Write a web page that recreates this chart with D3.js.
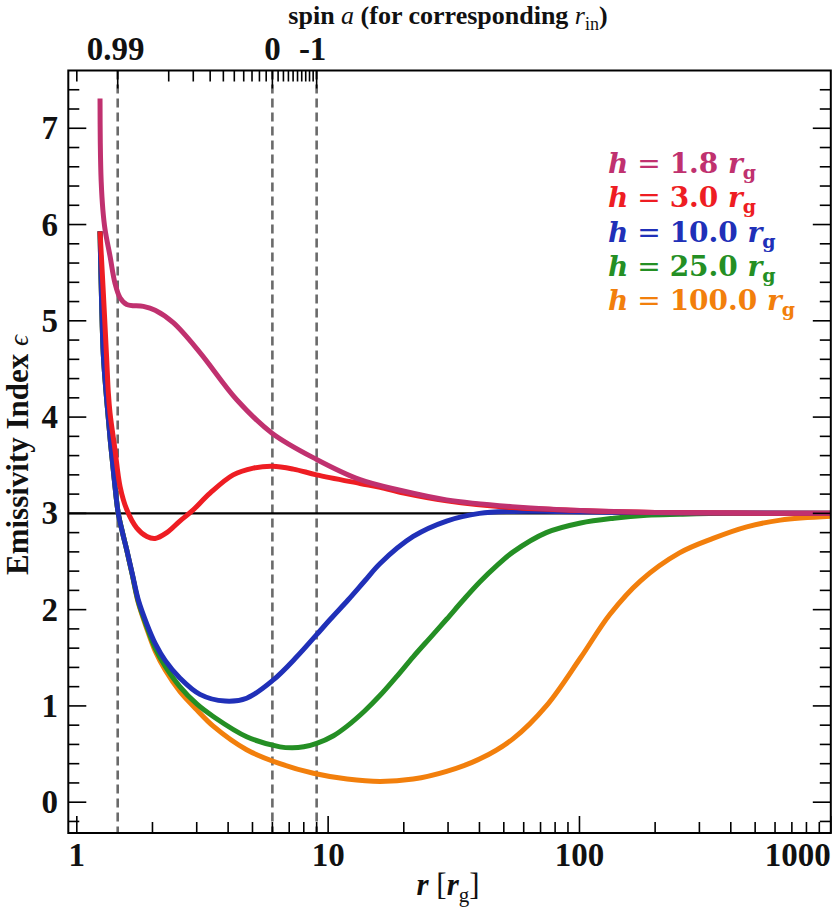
<!DOCTYPE html>
<html lang="en">
<head>
<meta charset="utf-8" />
<title>Emissivity index</title>
<script src="https://cdn.jsdelivr.net/npm/d3@7"></script>
<style>
  body { margin: 0; background: #fff; }
  text { font-family: "Liberation Serif", serif; font-weight: bold; fill: #111; }
</style>
</head>
<body>
<div id="chart"></div>
<script>
// curves: [r, emissivity index]
var h18 = [[1.237,7.31],[1.24,6.85],[1.25,6.45],[1.27,6.15],[1.295,5.95],[1.356,5.67],[1.419,5.39],[1.486,5.24],
  [1.58,5.17],[1.84,5.15],[2.05,5.11],[2.42,4.98],[3.09,4.67],[4.33,4.18],[6.0,3.83],[9.0,3.56],
  [13.4,3.35],[19.3,3.24],[29.6,3.14],[54,3.07],[101,3.03],[200,3.01],[1000,3.0]];
var h30 = [[1.237,5.93],[1.275,5.29],[1.315,4.6],[1.335,4.25],[1.356,4.04],[1.419,3.66],[1.486,3.28],
  [1.58,3.04],[1.73,2.85],[1.90,2.76],[2.05,2.74],[2.28,2.80],[2.57,2.92],[2.86,3.02],[3.39,3.21],
  [4.19,3.40],[5.04,3.47],[6.0,3.49],[7.27,3.46],[9.0,3.40],[13.4,3.31],[16.1,3.27],[20,3.21],
  [29.6,3.13],[54,3.06],[100,3.03],[200,3.01],[1000,3.0]];
var h100 = [[1.237,5.93],[1.255,5.2],[1.275,4.65],[1.315,4.18],[1.36,3.75],[1.41,3.35],[1.462,3.0],
  [1.52,2.8],[1.58,2.62],[1.66,2.38],[1.757,2.10],[1.9,1.85],[2.05,1.65],[2.25,1.47],[2.57,1.29],
  [3.09,1.12],[3.89,1.05],[4.74,1.08],[6.05,1.27],[7.5,1.51],[9,1.74],[10.2,1.9],[12,2.1],[14,2.3],
  [16.1,2.48],[21.8,2.76],[29.6,2.92],[40,3.0],[54,3.02],[80,3.02],[150,3.01],[1000,3.0]];
var h250 = [[1.237,5.93],[1.255,5.2],[1.275,4.65],[1.315,4.18],[1.36,3.75],[1.41,3.35],[1.462,3.0],
  [1.52,2.8],[1.58,2.62],[1.66,2.37],[1.757,2.08],[1.9,1.82],[2.05,1.60],[2.25,1.41],[2.57,1.20],
  [3.0,1.02],[3.49,0.89],[4.74,0.68],[6.43,0.575],[7.2,0.565],[8,0.575],[9,0.61],[10.5,0.69],[11.9,0.79],
  [14,0.95],[16.1,1.11],[18.8,1.31],[21.8,1.51],[25.5,1.71],[29.6,1.90],[34.5,2.1],[40.2,2.29],
  [47,2.46],[54.5,2.60],[73.8,2.80],[101,2.90],[137,2.95],[185,2.98],[250,2.99],[400,3.0],[1000,3.0]];
var h1000 = [[1.237,5.93],[1.255,5.2],[1.275,4.65],[1.315,4.18],[1.36,3.75],[1.41,3.35],[1.462,3.0],
  [1.52,2.8],[1.58,2.62],[1.66,2.37],[1.757,2.07],[1.9,1.80],[2.05,1.57],[2.25,1.37],[2.57,1.15],
  [3.0,0.96],[3.49,0.79],[4.74,0.545],[6.43,0.40],[8.74,0.30],[11.9,0.24],[16.1,0.215],[21.8,0.24],
  [29.6,0.32],[40.2,0.45],[54.5,0.66],[73.8,1.0],[101,1.5],[132,1.95],[175,2.3],[250,2.59],
  [340,2.74],[463,2.86],[630,2.93],[1000,2.97]];

var heights = ["1.8", "3.0", "10.0", "25.0", "100.0"];
var spinTicks = [1, 0.99, 0.9, 0.8, 0.7, 0.6, 0.5, 0.4, 0.3, 0.2, 0.1, 0,
  -0.1, -0.2, -0.3, -0.4, -0.5, -0.6, -0.7, -0.8, -0.9, -1];
var spinLabels = [0.99, 0, -1];
var rTicks = [1, 10, 100, 1000];
var epsTicks = [0, 1, 2, 3, 4, 5, 6, 7];

var colors = ["#c0316f", "#ee1d23", "#2030b8", "#248f24", "#f27f0c"];
var series = [h18, h30, h100, h250, h1000];

var W = 832, H = 910;
var pl = 68.3, pr = 830.8, pt = 70.5, pb = 833;

var x = d3.scaleLog().domain([0.925, 1000]).range([pl, pr]);
var y = d3.scaleLinear().domain([-0.32, 7.6]).range([pb, pt]);

// ISCO radius for a given spin, used to place the top axis
function rIsco(a) {
  var z1 = 1 + Math.cbrt(1 - a * a) * (Math.cbrt(1 + a) + Math.cbrt(1 - a));
  var z2 = Math.sqrt(3 * a * a + z1 * z1);
  var s = a < 0 ? -1 : 1;
  return 3 + z2 - s * Math.sqrt((3 - z1) * (3 + z1 + 2 * z2));
}

var svg = d3.select("#chart").append("svg")
  .attr("width", W).attr("height", H);

// dashed verticals at the ISCO of the labelled spins
svg.selectAll("line.isco").data(spinLabels).enter().append("line")
  .attr("class", "isco")
  .attr("x1", function(d) { return x(rIsco(d)); })
  .attr("x2", function(d) { return x(rIsco(d)); })
  .attr("y1", pt).attr("y2", pb)
  .attr("stroke", "#6a6a6a").attr("stroke-width", 2.6)
  .attr("stroke-dasharray", "9,5");

// eps = 3 reference line
svg.append("line")
  .attr("x1", pl).attr("x2", pr)
  .attr("y1", y(3)).attr("y2", y(3))
  .attr("stroke", "#000").attr("stroke-width", 2.4);

var line = d3.line()
  .x(function(d) { return x(d[0]); })
  .y(function(d) { return y(d[1]); })
  .curve(d3.curveCatmullRom.alpha(0.5));

// draw back to front so the h=1.8 curve sits on top
for (var i = series.length - 1; i >= 0; i--) {
  svg.append("path")
    .attr("d", line(series[i]))
    .attr("fill", "none")
    .attr("stroke", colors[i])
    .attr("stroke-width", 5)
    .attr("stroke-linejoin", "round");
}

// frame
svg.append("rect")
  .attr("x", pl).attr("y", pt)
  .attr("width", pr - pl).attr("height", pb - pt)
  .attr("fill", "none").attr("stroke", "#000").attr("stroke-width", 2);

var ticks = svg.append("g").attr("stroke", "#000").attr("stroke-width", 1.6);

// bottom axis ticks: decades plus 2..9
var rMinor = [];
[1, 10, 100].forEach(function(dec) {
  for (var k = 2; k <= 9; k++) rMinor.push(dec * k);
});
rTicks.forEach(function(r) {
  ticks.append("line").attr("x1", x(r)).attr("x2", x(r))
    .attr("y1", pb).attr("y2", pb - 17);
});
rMinor.forEach(function(r) {
  ticks.append("line").attr("x1", x(r)).attr("x2", x(r))
    .attr("y1", pb).attr("y2", pb - 11);
});

// top axis ticks in spin
spinTicks.forEach(function(a) {
  var len = spinLabels.indexOf(a) >= 0 ? 18 : 11;
  ticks.append("line").attr("x1", x(rIsco(a))).attr("x2", x(rIsco(a)))
    .attr("y1", pt).attr("y2", pt + len);
});

// left and right eps ticks
var epsMinor = d3.range(-0.2, 7.5, 0.2).filter(function(v) {
  return Math.abs(v - Math.round(v)) > 0.01;
});
epsTicks.forEach(function(v) {
  ticks.append("line").attr("x1", pl).attr("x2", pl + 18).attr("y1", y(v)).attr("y2", y(v));
  ticks.append("line").attr("x1", pr).attr("x2", pr - 18).attr("y1", y(v)).attr("y2", y(v));
});
epsMinor.forEach(function(v) {
  ticks.append("line").attr("x1", pl).attr("x2", pl + 11).attr("y1", y(v)).attr("y2", y(v));
  ticks.append("line").attr("x1", pr).attr("x2", pr - 11).attr("y1", y(v)).attr("y2", y(v));
});

// tick labels
svg.selectAll("text.rlab").data(rTicks).enter().append("text")
  .attr("class", "rlab")
  .attr("x", function(d) { return x(d); })
  .attr("y", 866)
  .attr("text-anchor", function(d) { return d === 1000 ? "end" : "middle"; })
  .style("font-size", "33px")
  .text(function(d) { return d; });

svg.selectAll("text.elab").data(epsTicks).enter().append("text")
  .attr("class", "elab")
  .attr("x", 58)
  .attr("y", function(d) { return y(d) + 11; })
  .attr("text-anchor", "end")
  .style("font-size", "33px")
  .text(function(d) { return d; });

svg.selectAll("text.slab").data(spinLabels).enter().append("text")
  .attr("class", "slab")
  .attr("x", function(d) { return x(rIsco(d)) - (d === 0.99 ? 2 : d === -1 ? 4 : 0); })
  .attr("y", 60)
  .attr("text-anchor", "middle")
  .style("font-size", "33px")
  .text(function(d) { return d; });

// axis titles
var xt = svg.append("text").attr("x", 448).attr("y", 895)
  .attr("text-anchor", "middle").style("font-size", "31px");
xt.append("tspan").style("font-style", "italic").text("r");
xt.append("tspan").style("font-weight", "normal").text(" [");
xt.append("tspan").style("font-style", "italic").text("r");
xt.append("tspan").attr("dy", 7).style("font-size", "21px").style("font-weight", "normal").text("g");
xt.append("tspan").attr("dy", -7).style("font-weight", "normal").text("]");

var tt = svg.append("text").attr("x", 448).attr("y", 24)
  .attr("text-anchor", "middle").style("font-size", "26px");
tt.append("tspan").text("spin ");
tt.append("tspan").style("font-style", "italic").style("font-weight", "normal").text("a");
tt.append("tspan").text(" (for corresponding ");
tt.append("tspan").style("font-style", "italic").style("font-weight", "normal").text("r");
tt.append("tspan").attr("dy", 6).style("font-size", "18px").style("font-weight", "normal").text("in");
tt.append("tspan").attr("dy", -6).text(")");

var yt = svg.append("text")
  .attr("transform", "translate(28,455) rotate(-90)")
  .attr("text-anchor", "middle").style("font-size", "31px");
yt.append("tspan").text("Emissivity Index ");
yt.append("tspan").style("font-style", "italic")
  .style("font-weight", "normal").style("font-size", "27px").text("\u03f5");

// legend
var legend = svg.append("g").attr("transform", "translate(608,173)");
heights.forEach(function(h, i) {
  var t = legend.append("text").attr("y", i * 34.3)
    .style("font-family", "DejaVu Serif").style("font-size", "28px")
    .style("fill", colors[i]);
  t.append("tspan").style("font-style", "italic").text("h");
  t.append("tspan").style("font-weight", "normal").text(" = ");
  t.append("tspan").text(h + " ");
  t.append("tspan").style("font-style", "italic").text("r");
  t.append("tspan").attr("dy", 6).style("font-size", "19px").text("g");
});
</script>
</body>
</html>
